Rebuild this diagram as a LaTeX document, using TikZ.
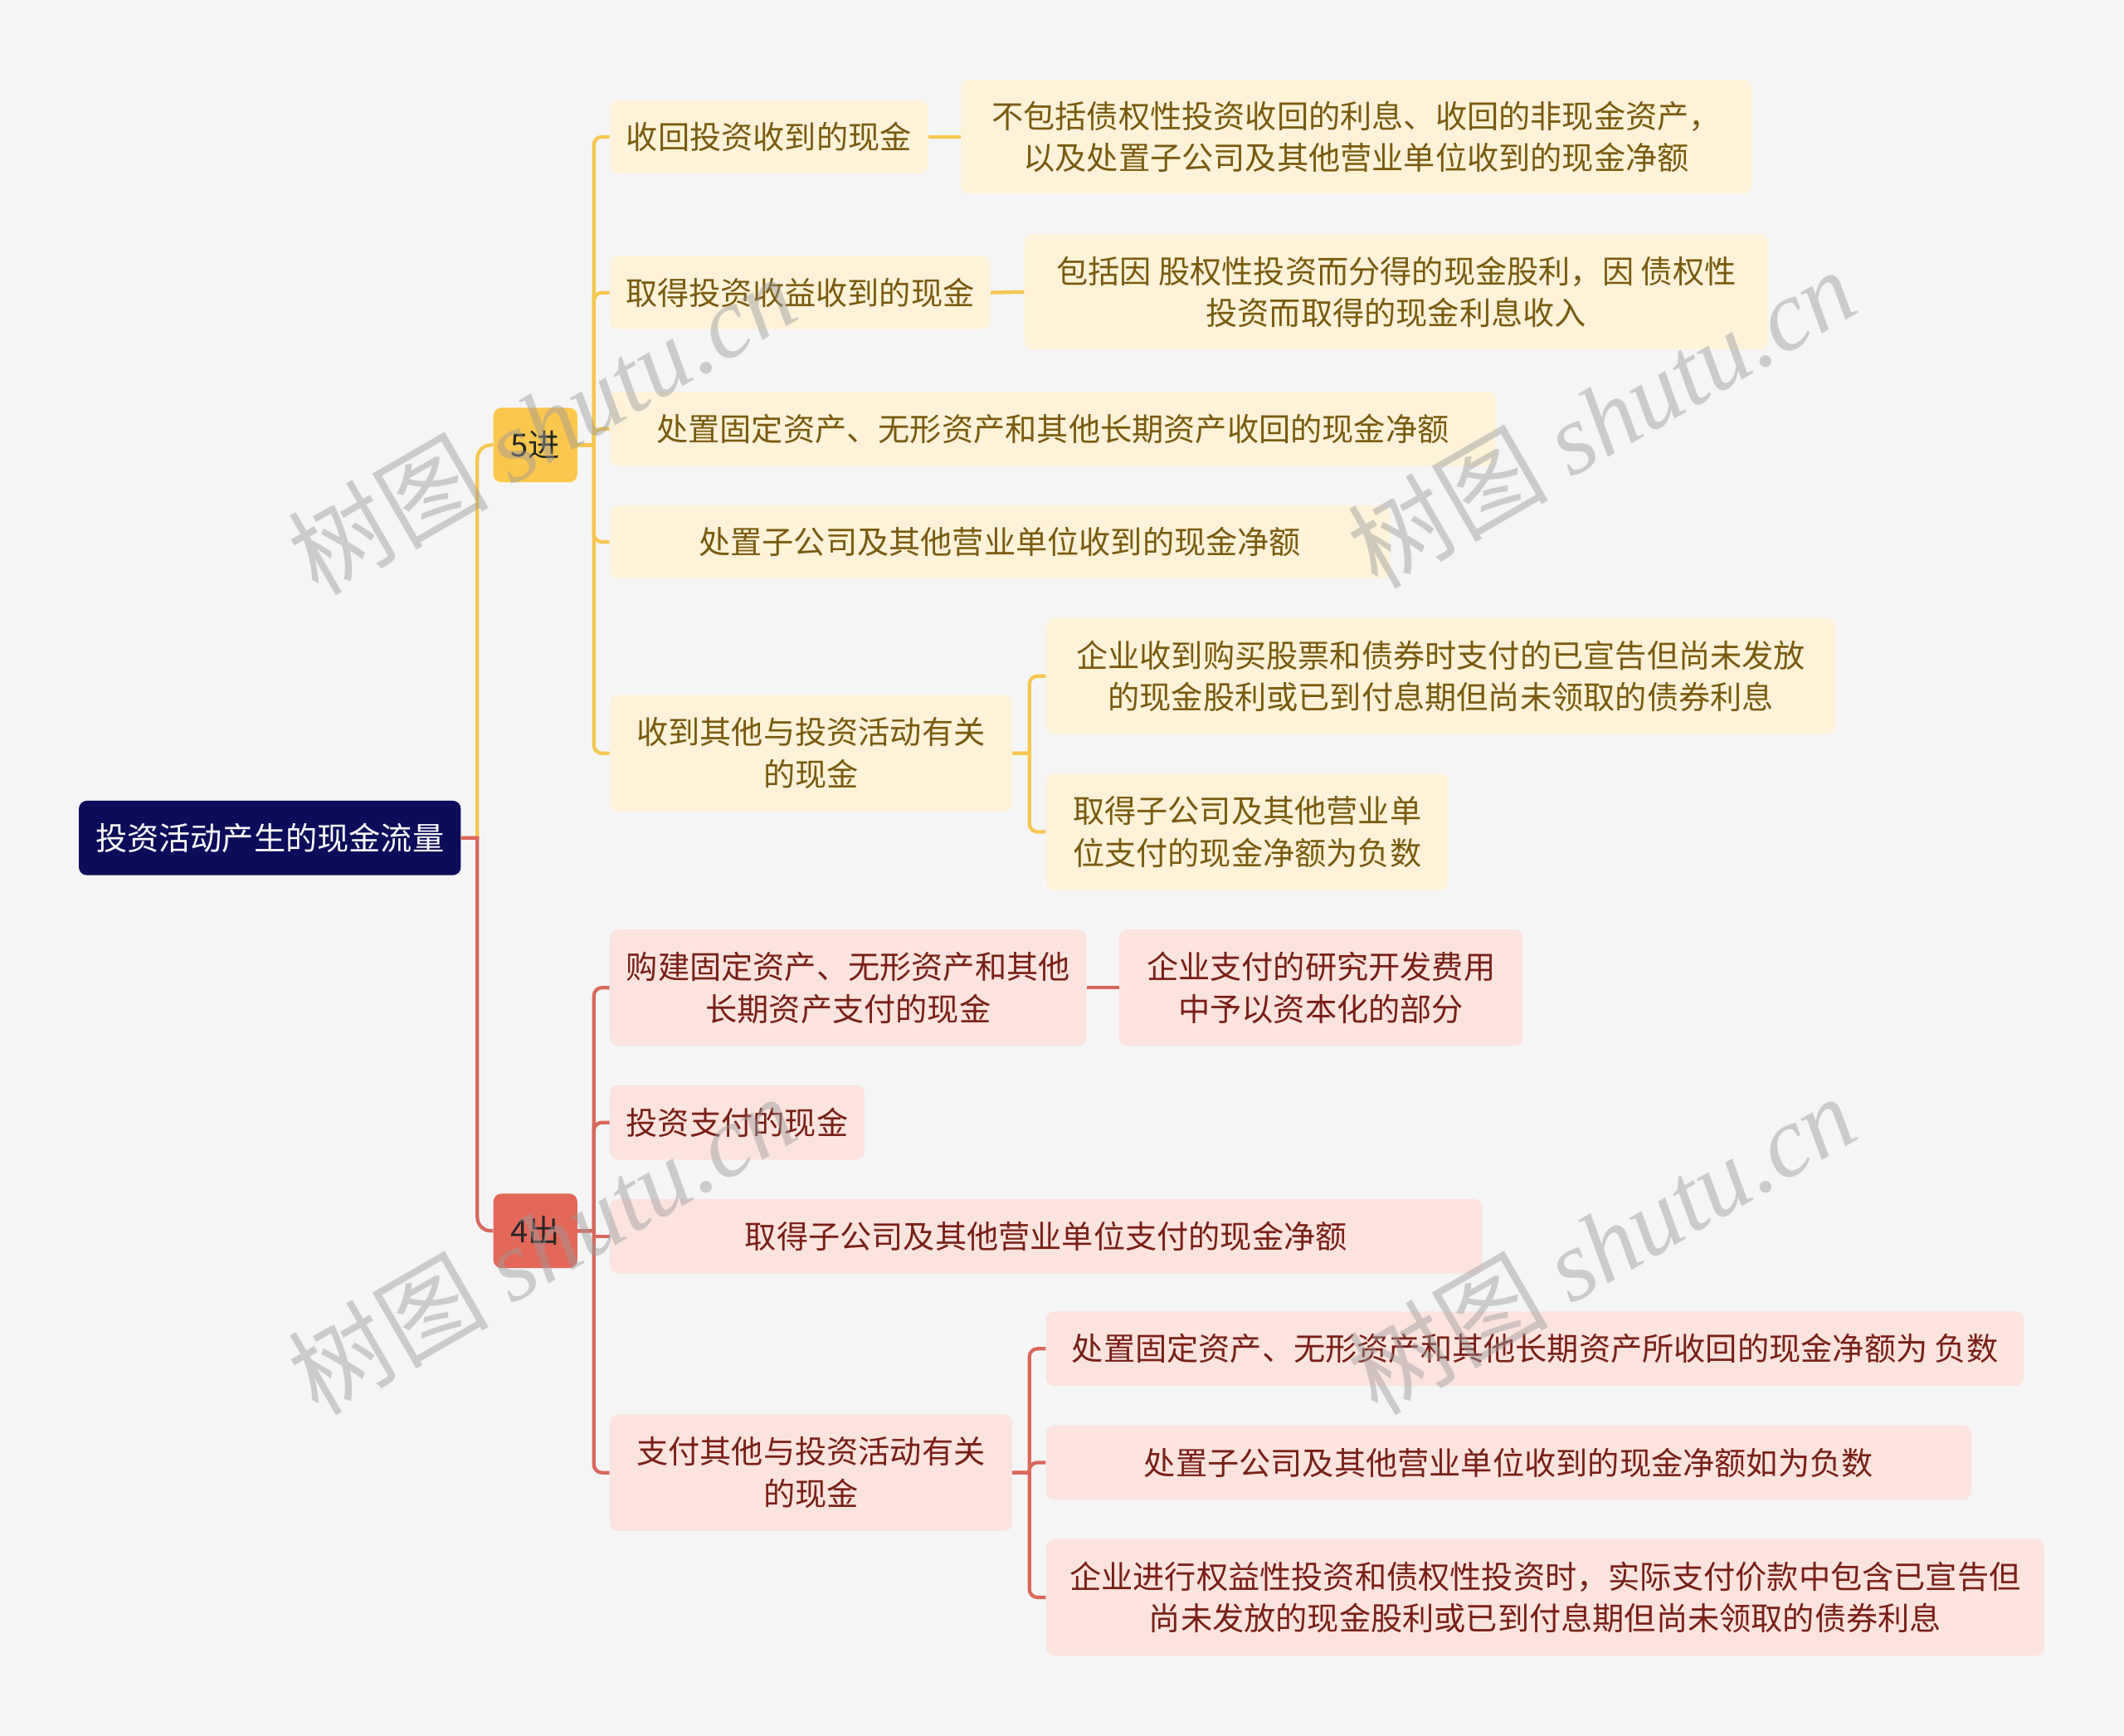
\documentclass[tikz,border=0pt]{standalone}
\usepackage{fontspec}
\setmainfont{Noto Sans CJK SC}
\newfontfamily\wmlatin{Liberation Serif}
\definecolor{bg}{HTML}{F5F5F5}
\definecolor{navy}{HTML}{0B0C5A}
\definecolor{gold}{HTML}{FCC74D}
\definecolor{coral}{HTML}{E4685A}
\definecolor{ylwfill}{HTML}{FEF3D9}
\definecolor{ylwtext}{HTML}{7A5A10}
\definecolor{redfill}{HTML}{FBE3DE}
\definecolor{redtext}{HTML}{7A1F16}
\definecolor{ylwline}{HTML}{F8C64F}
\definecolor{redline}{HTML}{D9685B}
\definecolor{wmgray}{HTML}{9A9A9A}
\begin{document}
\begin{tikzpicture}[x=1pt,y=-1pt,
  box/.style={anchor=west, rounded corners=6, inner sep=0pt, align=center,
    font=\fontsize{23.4}{31}\selectfont},
  ybox/.style={box, fill=ylwfill, text=ylwtext},
  rbox/.style={box, fill=redfill, text=redtext},
  sz/.style 2 args={minimum width=#1, minimum height=#2},
  yl/.style={draw=ylwline, line width=2.6pt},
  rl/.style={draw=redline, line width=2.6pt},
  wm/.style={text=wmgray, opacity=0.45, rotate=30, inner sep=0pt,
    font=\fontsize{74}{74}\selectfont}
]
\useasboundingbox (0,0) rectangle (1568,1281.35);
\fill[bg] (0,0) rectangle (1568,1281.35);

% root and branch nodes
\node[box, sz={282}{55}, fill=navy, text=white] (root) at (58,618.5) {投资活动产生的现金流量};
\node[box, sz={62}{55}, fill=gold, text=black!85] (n5) at (364,328.5) {5进};
\node[box, sz={62}{55}, fill=coral, text=black!85] (n4) at (364,908.5) {4出};

% yellow branch
\node[ybox, sz={235}{54}] (y1) at (450,101) {收回投资收到的现金};
\node[ybox, sz={584}{84}] (y1a) at (709,101) {不包括债权性投资收回的利息、收回的非现金资产，\\以及处置子公司及其他营业单位收到的现金净额};
\node[ybox, sz={281}{54}] (y2) at (450,216) {取得投资收益收到的现金};
\node[ybox, sz={549}{85}] (y2a) at (756,215.5) {包括因 股权性投资而分得的现金股利，因 债权性\\投资而取得的现金利息收入};
\node[ybox, sz={654}{55}] (y3) at (450,316.5) {处置固定资产、无形资产和其他长期资产收回的现金净额};
\node[ybox, sz={576}{54}] (y4) at (450,400) {处置子公司及其他营业单位收到的现金净额};
\node[ybox, sz={297}{86}] (y5) at (450,556) {收到其他与投资活动有关\\的现金};
\node[ybox, sz={583}{86}] (y5a) at (772,499) {企业收到购买股票和债券时支付的已宣告但尚未发放\\的现金股利或已到付息期但尚未领取的债券利息};
\node[ybox, sz={297}{86}] (y5b) at (772,614) {取得子公司及其他营业单\\位支付的现金净额为负数};

% red branch
\node[rbox, sz={352}{86}] (r1) at (450,729) {购建固定资产、无形资产和其他\\长期资产支付的现金};
\node[rbox, sz={298}{86}] (r1a) at (826,729) {企业支付的研究开发费用\\中予以资本化的部分};
\node[rbox, sz={188}{55}] (r2) at (450,828.5) {投资支付的现金};
\node[rbox, sz={644}{55}] (r3) at (450,912.5) {取得子公司及其他营业单位支付的现金净额};
\node[rbox, sz={297}{86}] (r4) at (450,1087) {支付其他与投资活动有关\\的现金};
\node[rbox, sz={722}{55}] (r4a) at (772,995.5) {处置固定资产、无形资产和其他长期资产所收回的现金净额为 负数};
\node[rbox, sz={683}{55}] (r4b) at (772,1079.5) {处置子公司及其他营业单位收到的现金净额如为负数};
\node[rbox, sz={737}{86}] (r4c) at (772,1179) {企业进行权益性投资和债权性投资时，实际支付价款中包含已宣告但\\尚未发放的现金股利或已到付息期但尚未领取的债券利息};

% connectors: root to branches
\draw[yl] (root.east) -- ++(12,0) [rounded corners=10] |- (n5.west);
\draw[rl] (root.east) -- ++(12,0) [rounded corners=10] |- (n4.west);

% yellow connectors
\foreach \c in {y1,y2,y3,y4,y5}
  \draw[yl] (n5.east) -- ++(12,0) [rounded corners=6] |- (\c.west);
\draw[yl] (y1.east) -- (y1a.west);
\draw[yl] (y2.east) -- (y2a.west);
\foreach \c in {y5a,y5b}
  \draw[yl] (y5.east) -- ++(12.5,0) [rounded corners=6] |- (\c.west);

% red connectors
\foreach \c in {r1,r2,r4}
  \draw[rl] (n4.east) -- ++(12,0) [rounded corners=6] |- (\c.west);
\draw[rl] (n4.east) -- ++(12,0) |- (r3.west);
\draw[rl] (r1.east) -- (r1a.west);
\foreach \c in {r4a,r4b,r4c}
  \draw[rl] (r4.east) -- ++(12.5,0) [rounded corners=6] |- (\c.west);

% watermarks
\node[wm] (wm1) at (400,313) {树图 {\wmlatin\itshape shutu.cn}};
\node[wm] (wm2) at (1182,308) {树图 {\wmlatin\itshape shutu.cn}};
\node[wm] (wm3) at (400,918) {树图 {\wmlatin\itshape shutu.cn}};
\node[wm] (wm4) at (1182,918) {树图 {\wmlatin\itshape shutu.cn}};
\end{tikzpicture}
\end{document}
